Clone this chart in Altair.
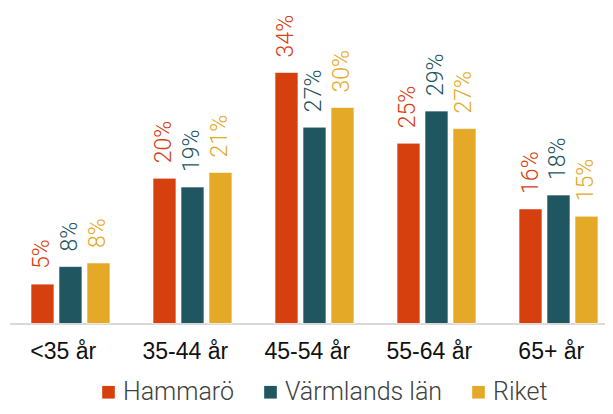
import altair as alt
import pandas as pd

categories = ["<35 år", "35-44 år", "45-54 år", "55-64 år", "65+ år"]
series = ["Hammarö", "Värmlands län", "Riket"]
hammaro = [5.4, 19.9, 34.4, 24.7, 15.7]
varmland = [7.8, 18.7, 26.9, 29.1, 17.6]
riket = [8.3, 20.7, 29.6, 26.7, 14.7]
colors = ["#D6400F", "#1F5660", "#E5A928"]

rows = []
for name, vals in zip(series, [hammaro, varmland, riket]):
    for c, v in zip(categories, vals):
        rows.append({"cat": c, "series": name, "value": v})
df = pd.DataFrame(rows)

x = alt.X(
    "cat:N",
    sort=categories,
    title=None,
    scale=alt.Scale(paddingInner=0.119, paddingOuter=0),
    axis=alt.Axis(
        labelAngle=0,
        ticks=False,
        labelPadding=17,
        labelFont="Liberation Sans",
        labelFontSize=23,
        labelColor="#111111",
        domainColor="#d9d9d9",
        domainWidth=2,
        grid=False,
    ),
)
xo = alt.XOffset("series:N", sort=series,
                 scale=alt.Scale(paddingInner=0.1786, paddingOuter=0.509, align=0.754))
y = alt.Y("value:Q", scale=alt.Scale(domain=[0, 40], nice=False), axis=None)
color = alt.Color(
    "series:N",
    sort=series,
    scale=alt.Scale(domain=series, range=colors),
    title=None,
    legend=alt.Legend(
        orient="none",
        legendX=86.5,
        legendY=348,
        direction="horizontal",
        symbolType="square",
        symbolSize=160,
        symbolStrokeWidth=0,
        labelFont="Roboto",
        labelFontWeight=300,
        labelFontSize=25,
        labelColor="#404040",
        labelOffset=2,
        columnPadding=23,
        padding=0,
    ),
)

bars = alt.Chart(df).mark_bar(stroke="white", strokeWidth=0.8, strokeOpacity=0.8).encode(
    x=x, xOffset=xo, y=y, color=color
)

labels = alt.Chart(df).transform_calculate(
    label="format(datum.value, '.0f') + '%'"
).mark_text(
    angle=270, align="left", baseline="middle", dx=15,
    font="Roboto", fontWeight=300, fontSize=23
).encode(
    x=x, xOffset=xo, y=y,
    text="label:N",
    color=alt.Color("series:N", sort=series, scale=alt.Scale(domain=series, range=colors), legend=None),
)

chart = alt.layer(bars, labels).properties(
    width=595.5,
    height=292,
    autosize=alt.AutoSizeParams(type="none"),
    padding={"left": 1.5, "top": 23.5, "right": 0, "bottom": 82.5},
).configure_view(stroke=None)

chart.save("out.html", embed_options={"renderer": "svg", "actions": False})
